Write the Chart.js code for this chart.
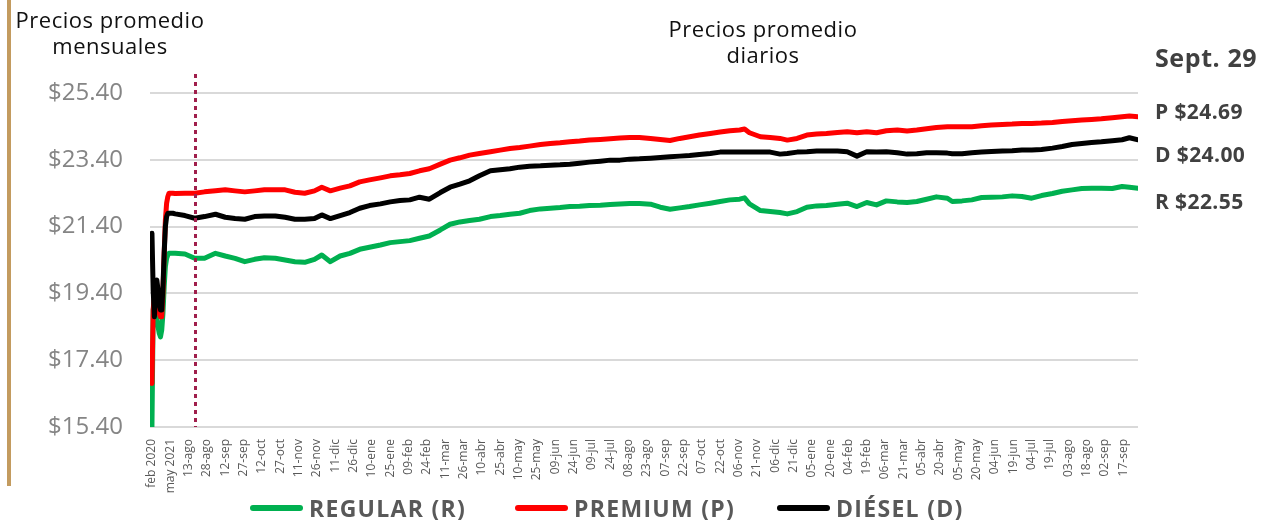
<!DOCTYPE html>
<html lang="es">
<head>
<meta charset="utf-8">
<script src="https://cdn.jsdelivr.net/npm/chart.js@4.4.1/dist/chart.umd.min.js"></script>
<style>
    body { margin: 0; background: #fff; font-family: "Open Sans", sans-serif; }
    #wrap { position: relative; width: 1263px; height: 520px; overflow: hidden; }
    #chart { position: absolute; left: 0; top: 0; }
    .bar { position: absolute; left: 7px; top: 0; width: 4px; height: 486px; background: #c39b5f; }
    .title { position: absolute; color: #111; font-size: 22px; letter-spacing: 0.5px; line-height: 26px; text-align: center; white-space: nowrap; }
    .side { position: absolute; left: 1155px; color: #404040; font-weight: 700; font-size: 21px; letter-spacing: 0.4px; white-space: nowrap; }
    .leg { position: absolute; top: 494px; height: 28px; display: flex; align-items: center; }
    .leg i { display: block; width: 53px; height: 6px; border-radius: 3px; margin-right: 6px; }
    .leg span { font-weight: 700; font-size: 23px; letter-spacing: 1.3px; color: #595959; white-space: nowrap; }
</style>
</head>
<body>
<div id="wrap">
    <canvas id="chart" width="1263" height="520"></canvas>
    <div class="bar"></div>
    <div class="title" style="left:10px; top:6px; width:200px;">Precios promedio<br>mensuales</div>
    <div class="title" style="left:663px; top:15px; width:200px;">Precios promedio<br>diarios</div>
    <div class="side" style="top:40px; font-size:25px; letter-spacing:0.6px;">Sept. 29</div>
    <div class="side" style="top:97px;">P $24.69</div>
    <div class="side" style="top:140px;">D $24.00</div>
    <div class="side" style="top:187px;">R $22.55</div>
    <div class="leg" style="left:250px;"><i style="background:#00b050"></i><span>REGULAR (R)</span></div>
    <div class="leg" style="left:515px;"><i style="background:#ff0000"></i><span>PREMIUM (P)</span></div>
    <div class="leg" style="left:777px;"><i style="background:#000"></i><span>DIÉSEL (D)</span></div>
</div>
<script>
// posiciones en el eje: 0-17 mensual (feb 2020 - jul 2021), desde 18 diario (1-ago-2021 en adelante)
const dayIndex = [0, 1, 2, 3, 4, 5, 6, 7, 8, 9, 10, 11, 12, 13, 14, 15, 16, 17,
    19, 27, 35, 43, 52, 60, 68, 76, 84, 92, 101, 109, 117, 125, 133, 139, 146, 154, 162, 170,
    178, 187, 195, 203, 211, 219, 227, 236, 244, 252, 260, 268, 277, 285, 293, 301, 309, 318,
    326, 334, 342, 350, 358, 367, 375, 383, 391, 399, 408, 416, 424, 432, 440, 448, 457, 465,
    473, 481, 485, 489, 498, 506, 514, 520, 528, 536, 544, 552, 561, 569, 577, 585, 593, 601,
    610, 618, 626, 634, 642, 651, 655, 663, 671, 679, 687, 696, 704, 712, 720, 728, 737, 745,
    753, 761, 769, 777, 786, 794, 800, 807];

const regular = [15.4, 18.9, 19.2, 19.0, 18.7, 18.4, 18.2, 18.1, 18.3, 18.8, 19.6, 20.2, 20.45, 20.55, 20.6, 20.6, 20.6, 20.6,
    20.60, 20.58, 20.45, 20.45, 20.60, 20.52, 20.45, 20.35, 20.42, 20.47,
    20.45, 20.40, 20.35, 20.33, 20.42, 20.55, 20.35, 20.52, 20.60, 20.72,
    20.78, 20.85, 20.92, 20.95, 20.98, 21.05, 21.12, 21.30, 21.47, 21.54,
    21.58, 21.62, 21.70, 21.73, 21.77, 21.80, 21.88, 21.93, 21.95, 21.97,
    22.00, 22.01, 22.03, 22.04, 22.06, 22.08, 22.09, 22.09, 22.07, 21.98,
    21.92, 21.96, 22.00, 22.05, 22.10, 22.15, 22.20, 22.22, 22.26, 22.08,
    21.88, 21.85, 21.82, 21.78, 21.85, 21.98, 22.02, 22.03, 22.07, 22.10,
    22.00, 22.12, 22.05, 22.17, 22.14, 22.12, 22.15, 22.22, 22.29, 22.25,
    22.15, 22.17, 22.20, 22.27, 22.28, 22.29, 22.32, 22.30, 22.25, 22.33,
    22.39, 22.46, 22.50, 22.54, 22.55, 22.55, 22.54, 22.60, 22.58, 22.55];

const premium = [16.7, 18.9, 19.4, 19.6, 19.4, 19.1, 18.8, 18.7, 18.7, 19.4, 20.6, 21.6, 22.1, 22.3, 22.4, 22.4, 22.4, 22.4,
    22.39, 22.40, 22.40, 22.44, 22.47, 22.50, 22.47, 22.44, 22.47, 22.50,
    22.50, 22.50, 22.43, 22.40, 22.47, 22.58, 22.47, 22.55, 22.62, 22.74,
    22.80, 22.86, 22.92, 22.95, 22.99, 23.07, 23.13, 23.27, 23.39, 23.46,
    23.54, 23.59, 23.64, 23.69, 23.74, 23.77, 23.81, 23.86, 23.89, 23.91,
    23.94, 23.96, 23.99, 24.01, 24.03, 24.05, 24.07, 24.07, 24.04, 24.01,
    23.98, 24.04, 24.09, 24.14, 24.19, 24.23, 24.27, 24.29, 24.32, 24.21,
    24.09, 24.07, 24.04, 23.99, 24.04, 24.14, 24.17, 24.19, 24.22, 24.24,
    24.21, 24.24, 24.21, 24.27, 24.29, 24.26, 24.29, 24.33, 24.37, 24.39,
    24.39, 24.39, 24.39, 24.42, 24.44, 24.46, 24.47, 24.49, 24.49, 24.50,
    24.52, 24.55, 24.57, 24.59, 24.61, 24.63, 24.66, 24.69, 24.71, 24.69];

const diesel = [21.2, 19.5, 18.7, 19.4, 19.8, 19.5, 19.1, 18.9, 18.9, 19.6, 20.6, 21.4, 21.7, 21.8, 21.8, 21.8, 21.8, 21.8,
    21.78, 21.73, 21.65, 21.70, 21.77, 21.68, 21.64, 21.62, 21.70, 21.72,
    21.72, 21.68, 21.62, 21.62, 21.64, 21.75, 21.64, 21.73, 21.82, 21.95,
    22.03, 22.08, 22.14, 22.18, 22.20, 22.28, 22.22, 22.42, 22.58, 22.67,
    22.77, 22.92, 23.07, 23.10, 23.13, 23.18, 23.21, 23.22, 23.24, 23.25,
    23.27, 23.30, 23.33, 23.36, 23.39, 23.39, 23.42, 23.43, 23.45, 23.47,
    23.49, 23.51, 23.53, 23.56, 23.59, 23.63, 23.63, 23.63, 23.63, 23.63,
    23.63, 23.63, 23.57, 23.59, 23.63, 23.64, 23.66, 23.66, 23.66, 23.64,
    23.51, 23.64, 23.63, 23.64, 23.61, 23.57, 23.58, 23.61, 23.61, 23.60,
    23.58, 23.58, 23.61, 23.63, 23.65, 23.66, 23.67, 23.69, 23.69, 23.71,
    23.75, 23.80, 23.86, 23.89, 23.92, 23.94, 23.97, 24.00, 24.06, 24.00];

// etiquetas del eje x, una cada 15 posiciones
const tickLabels = ['feb 2020', 'may 2021', '13-ago', '28-ago', '12-sep', '27-sep', '12-oct', '27-oct',
    '11-nov', '26-nov', '11-dic', '26-dic', '10-ene', '25-ene', '09-feb', '24-feb', '11-mar', '26-mar',
    '10-abr', '25-abr', '10-may', '25-may', '09-jun', '24-jun', '09-jul', '24-jul', '08-ago', '23-ago',
    '07-sep', '22-sep', '07-oct', '22-oct', '06-nov', '21-nov', '06-dic', '21-dic', '05-ene', '20-ene',
    '04-feb', '19-feb', '06-mar', '21-mar', '05-abr', '20-abr', '05-may', '20-may', '04-jun', '19-jun',
    '04-jul', '19-jul', '03-ago', '18-ago', '02-sep', '17-sep'];
const tickStep = 15;
const yTicks = [15.4, 17.4, 19.4, 21.4, 23.4, 25.4];
const dividerAt = 35; // separa mensual de diario

function toPoints(values) {
    return dayIndex.map((x, i) => ({ x: x, y: values[i] }));
}

const divider = {
    id: 'divider',
    afterDatasetsDraw(chart) {
        const { ctx, scales: { x, y } } = chart;
        const px = Math.round(x.getPixelForValue(dividerAt)) + 0.5;
        ctx.save();
        ctx.strokeStyle = '#a01f4c';
        ctx.lineWidth = 3;
        ctx.setLineDash([4, 4]);
        ctx.beginPath();
        ctx.moveTo(px, chart.chartArea.top - 19);
        ctx.lineTo(px, y.getPixelForValue(yTicks[0]));
        ctx.stroke();
        ctx.restore();
    }
};

const lineStyle = { borderWidth: 5, pointRadius: 0, tension: 0, borderCapStyle: 'round', borderJoinStyle: 'round', fill: false };

new Chart(document.getElementById('chart').getContext('2d'), {
    type: 'line',
    data: {
        datasets: [
            Object.assign({ label: 'REGULAR (R)', data: toPoints(regular), borderColor: '#00b050', order: 2 }, lineStyle),
            Object.assign({ label: 'PREMIUM (P)', data: toPoints(premium), borderColor: '#ff0000', order: 1 }, lineStyle),
            Object.assign({ label: 'DIÉSEL (D)', data: toPoints(diesel), borderColor: '#000000', order: 0 }, lineStyle)
        ]
    },
    options: {
        responsive: false,
        animation: false,
        devicePixelRatio: 1,
        layout: { padding: { top: 93, right: 125, bottom: 0, left: 0 } },
        plugins: { legend: { display: false }, tooltip: { enabled: false } },
        scales: {
            x: {
                type: 'linear',
                min: -1.6,
                max: 807,
                afterFit(s) { s.height = 93; },
                afterBuildTicks(s) { s.ticks = tickLabels.map((_, i) => ({ value: i * tickStep })); },
                grid: { display: false },
                border: { display: false },
                ticks: {
                    autoSkip: false,
                    minRotation: 90,
                    maxRotation: 90,
                    padding: 4,
                    color: '#595959',
                    font: { family: 'Open Sans', size: 12 },
                    callback: (v) => tickLabels[Math.round(v / tickStep)]
                }
            },
            y: {
                min: 15.4,
                max: 25.4,
                afterFit(s) { s.width = 150; },
                afterBuildTicks(s) { s.ticks = yTicks.map(v => ({ value: v })); },
                grid: { color: '#d9d9d9', lineWidth: 2, drawTicks: false },
                border: { display: false },
                ticks: {
                    padding: 27,
                    color: '#858585',
                    font: { family: 'Open Sans', size: 24 },
                    callback: (v) => '$' + Number(v).toFixed(2)
                }
            }
        }
    },
    plugins: [divider]
});
</script>
</body>
</html>
